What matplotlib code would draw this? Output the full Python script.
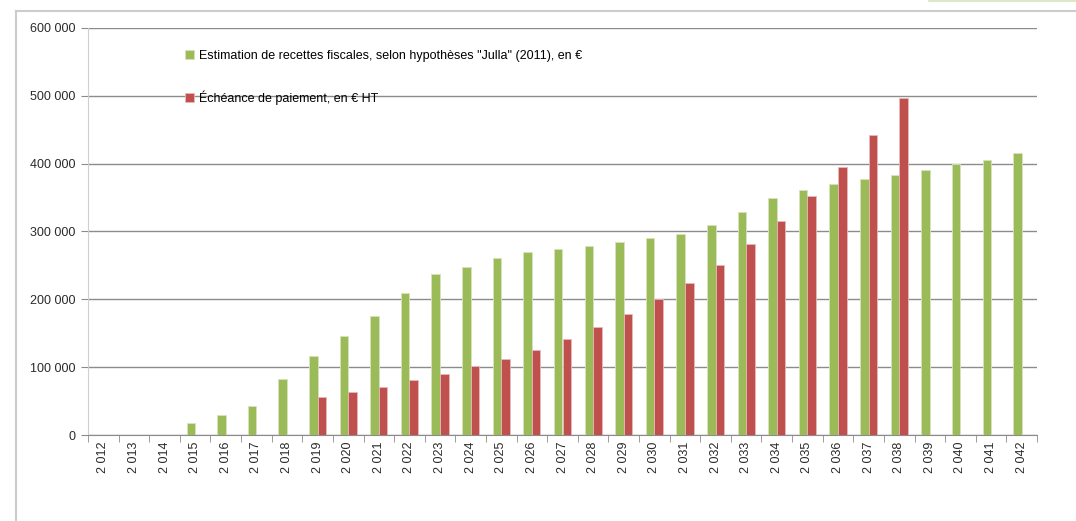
import numpy as np
import matplotlib
matplotlib.use("Agg")
import matplotlib.pyplot as plt
from matplotlib.ticker import FuncFormatter, MultipleLocator, FixedLocator
from matplotlib.lines import Line2D

plt.rcParams['font.family'] = ['Liberation Sans', 'DejaVu Sans']

years = list(range(2012, 2043))
recettes = [0, 0, 0, 18000, 30000, 43000, 83000, 117000, 146000, 175000,
            210000, 237000, 248000, 261000, 270000, 274000, 279000, 285000, 290000, 296000,
            310000, 329000, 349000, 361000, 370000, 377000, 384000, 391000, 400000, 406000,
            415000]
echeances = [np.nan, np.nan, np.nan, np.nan, np.nan, np.nan, np.nan, 56000, 64000, 71000,
             81000, 90000, 101000, 112000, 126000, 142000, 159000, 179000, 200000, 224000,
             251000, 282000, 315000, 353000, 395000, 442000, 497000, np.nan, np.nan, np.nan,
             np.nan]
labels = ["Estimation de recettes fiscales, selon hypothèses \"Julla\" (2011), en €",
          "Échéance de paiement, en € HT"]

green = '#9bbb59'
red = '#c0504d'
grid_gray = '#8c8c8c'

W, H = 1076, 521
fig = plt.figure(figsize=(W / 100, H / 100), dpi=100)
ax = fig.add_axes([88 / W, 1 - 435 / H, (1037 - 88) / W, (435 - 28) / H])

x = np.arange(len(years))
bw = 0.28
ax.bar(x - bw / 2, recettes, width=bw, color=green, edgecolor='#d6e3bc', linewidth=0.6,
       label=labels[0], zorder=3)
ax.bar(x + bw / 2, echeances, width=bw, color=red, edgecolor='#e6b9b8', linewidth=0.6,
       label=labels[1], zorder=3)

ax.set_xlim(-0.5, len(years) - 0.5)
ax.set_ylim(0, 600000)
ax.yaxis.set_major_locator(MultipleLocator(100000))
ax.yaxis.set_major_formatter(FuncFormatter(lambda v, p: f"{v:,.0f}".replace(",", " ")))
ax.grid(axis='y', color=grid_gray, linewidth=1.0, zorder=0)

ax.set_xticks(x)
ax.set_xticklabels([f"{y:,}".replace(",", " ") for y in years], rotation=90, fontsize=9)
ax.xaxis.set_minor_locator(FixedLocator(np.arange(len(years) + 1) - 0.5))
ax.tick_params(axis='x', which='major', length=0, pad=5)
ax.tick_params(axis='x', which='minor', length=5, color=grid_gray, direction='out')
ax.tick_params(axis='y', length=5, color=grid_gray, labelsize=9, pad=4, labelcolor='#2a2a2a')
ax.tick_params(axis='x', labelcolor='#2a2a2a')

for s in ['top', 'right']:
    ax.spines[s].set_visible(False)
ax.spines['left'].set_color('#cfcfcf')
ax.spines['bottom'].set_color(grid_gray)

leg = ax.legend(loc='upper left', bbox_to_anchor=(185 / W, 1 - 50 / H),
                bbox_transform=fig.transFigure, frameon=False, fontsize=9,
                handlelength=0.7, handleheight=0.7, handletextpad=0.4,
                labelspacing=2.28, borderpad=0, borderaxespad=0)

# outer chart frame and top artifact
fig.add_artist(Line2D([16 / W, 16 / W], [0, 1 - 11 / H], color='#cccccc', linewidth=1.5,
                      transform=fig.transFigure))
fig.add_artist(Line2D([16 / W, 1], [1 - 11 / H, 1 - 11 / H], color='#cccccc', linewidth=1.5,
                      transform=fig.transFigure))
fig.add_artist(Line2D([929 / W, 1], [1 - 0.5 / H, 1 - 0.5 / H], color='#d7e4bd', linewidth=1.2,
                      transform=fig.transFigure))

fig.savefig('out.png', dpi=100)
